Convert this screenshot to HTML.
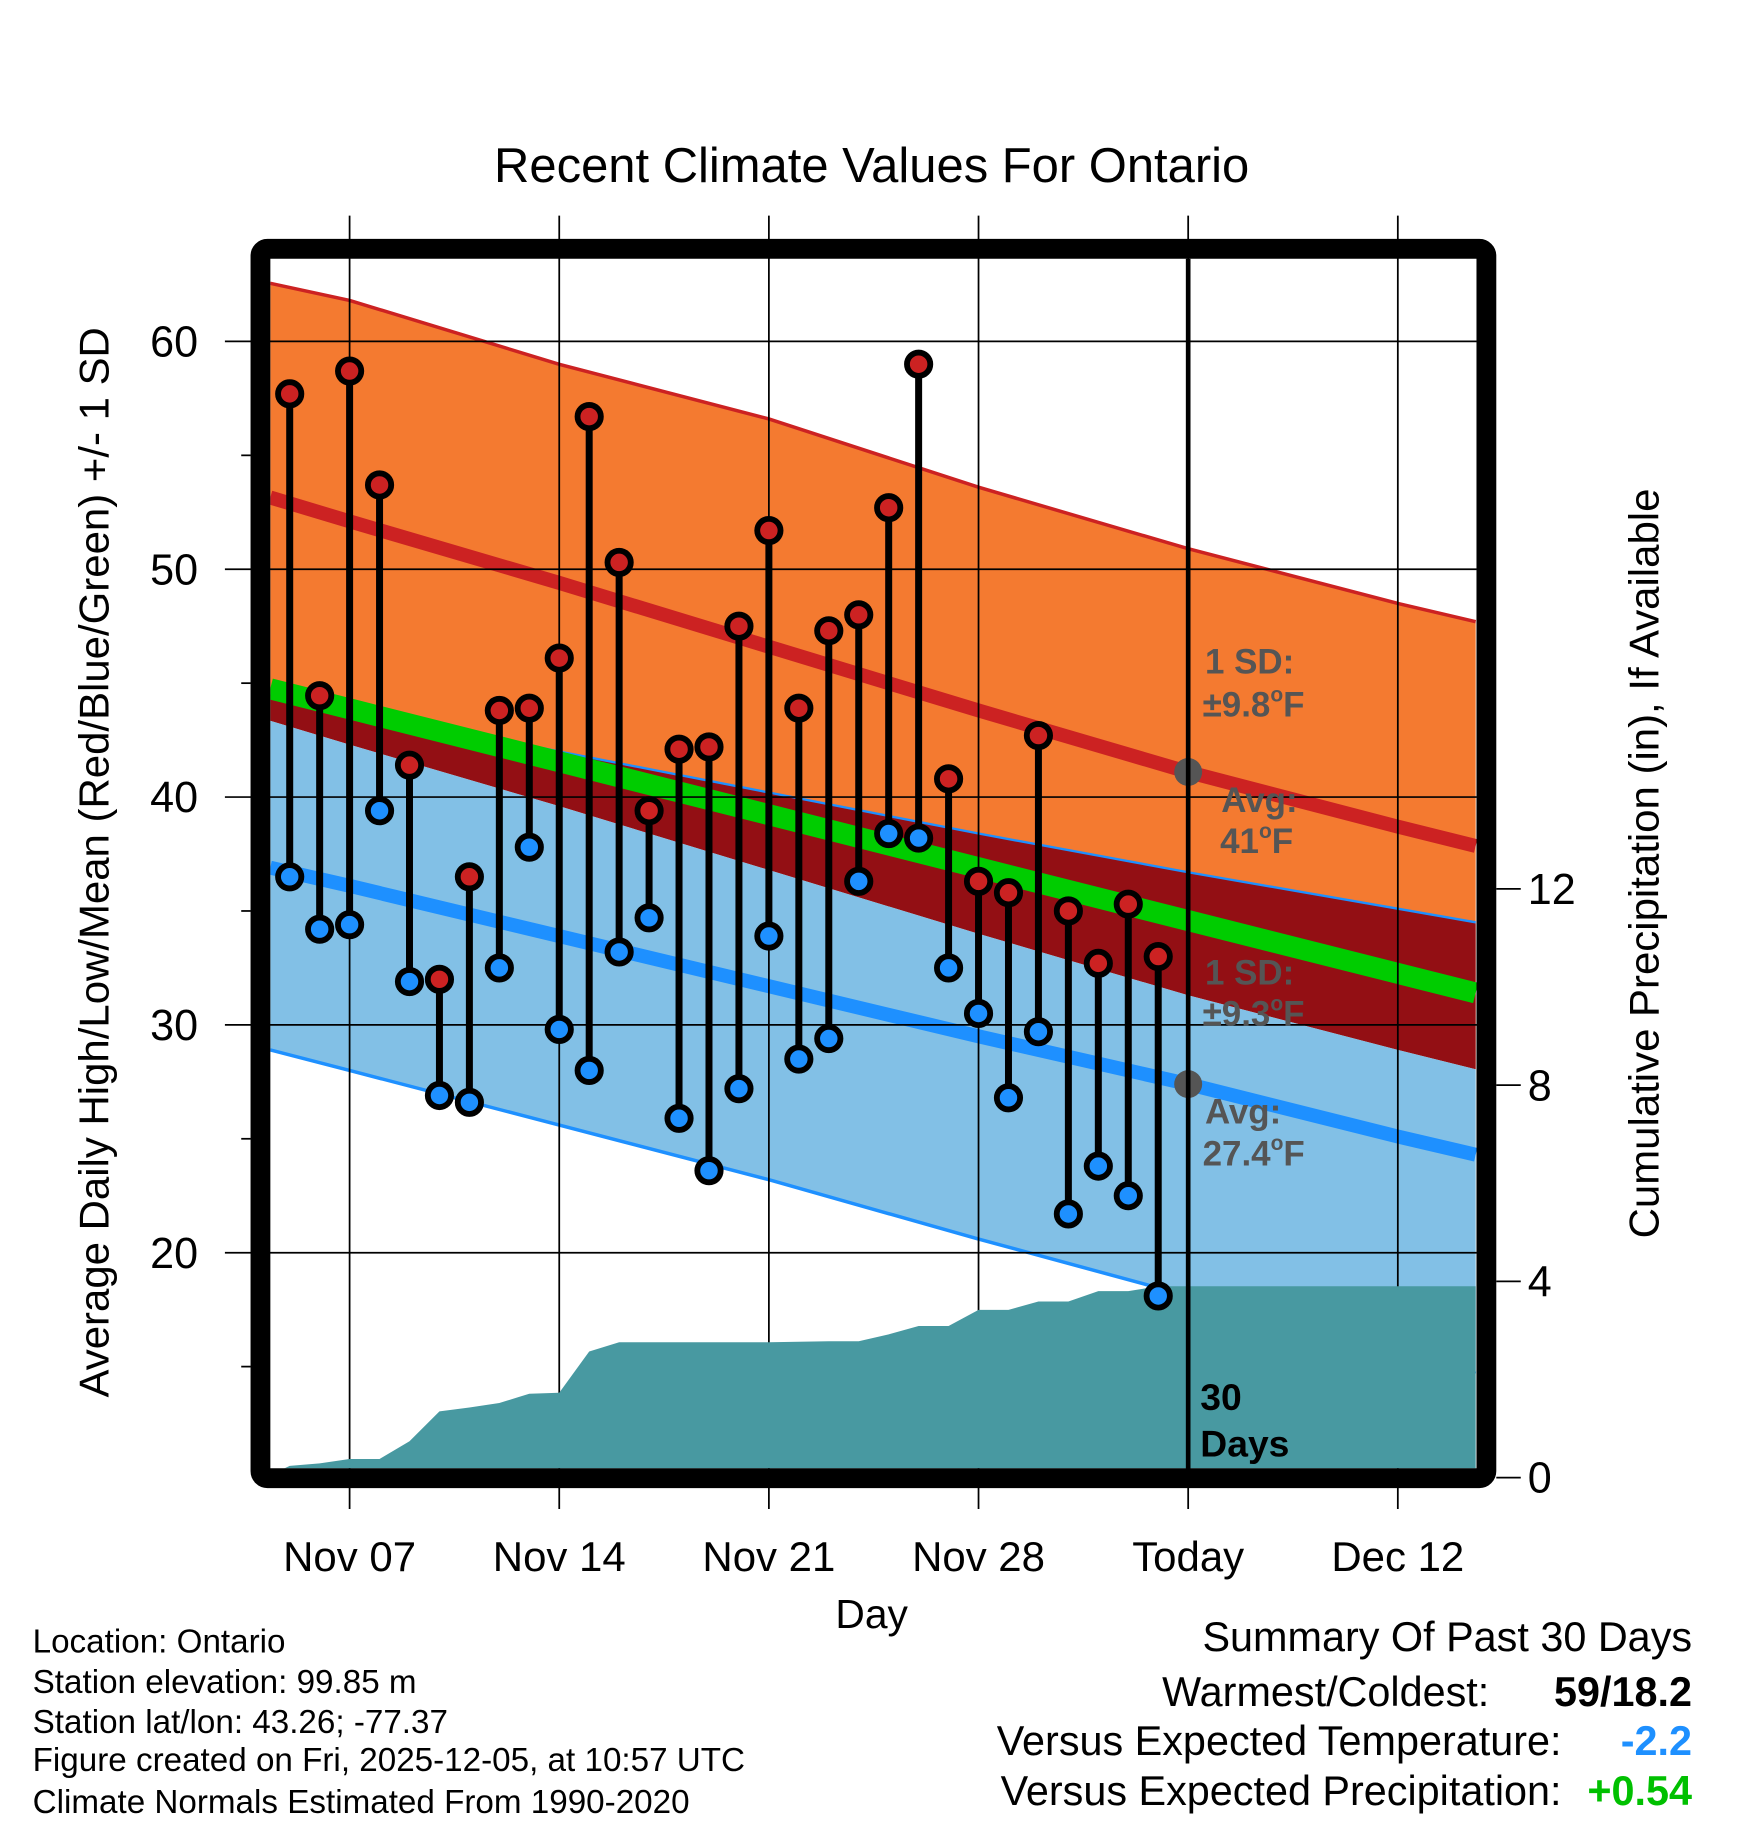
<!DOCTYPE html>
<html><head><meta charset="utf-8"><style>
html,body{margin:0;padding:0;background:#fff;}
svg{display:block;font-family:"Liberation Sans",sans-serif;}
</style></head><body>
<svg id="chart" width="1748" height="1828" viewBox="0 0 1500 1568.7" preserveAspectRatio="none" xmlns="http://www.w3.org/2000/svg">
<defs><clipPath id="plotclip"><rect x="232" y="222" width="1035" height="1038"/></clipPath></defs>
<text x="748" y="156" font-size="42" text-anchor="middle">Recent Climate Values For Ontario</text>
<g id="fills" clip-path="url(#plotclip)"></g>
<g id="grid"></g>
<g id="precip" clip-path="url(#plotclip)"></g>
<g id="annot"></g>
<g id="marks"></g>
<rect x="223.5" y="213.5" width="1052" height="1055" fill="none" stroke="#000" stroke-width="17" rx="6"/>
<g id="axes"></g>
<text x="748" y="1397" font-size="35" text-anchor="middle">Day</text>
<text transform="translate(93,740) rotate(-90)" font-size="36" text-anchor="middle">Average Daily High/Low/Mean (Red/Blue/Green) +/- 1 SD</text>
<text transform="translate(1423,741) rotate(-90)" font-size="36" text-anchor="middle">Cumulative Precipitation (in), If Available</text>
<g font-size="28.5">
<text x="28" y="1418">Location: Ontario</text>
<text x="28" y="1453">Station elevation: 99.85 m</text>
<text x="28" y="1487">Station lat/lon: 43.26; -77.37</text>
<text x="28" y="1520">Figure created on Fri, 2025-12-05, at 10:57 UTC</text>
<text x="28" y="1556">Climate Normals Estimated From 1990-2020</text>
</g>
<g font-size="35.5">
<text x="1452" y="1417" text-anchor="end">Summary Of Past 30 Days</text>
<text x="1278" y="1464" text-anchor="end">Warmest/Coldest:</text>
<text x="1452" y="1464" text-anchor="end" font-weight="bold">59/18.2</text>
<text x="1340" y="1506" text-anchor="end">Versus Expected Temperature:</text>
<text x="1452" y="1506" text-anchor="end" font-weight="bold" fill="#1e90ff">-2.2</text>
<text x="1340" y="1549" text-anchor="end">Versus Expected Precipitation:</text>
<text x="1452" y="1549" text-anchor="end" font-weight="bold" fill="#00c000">+0.54</text>
</g>
</svg>
<script>
// ---- data ----
const dayIdx = [-2,-1,0,1,2,3,4,5,6,7,8,9,10,11,12,13,14,15,16,17,18,19,20,21,22,23,24,25,26,27];
const highs = [57.7,44.45,58.7,53.7,41.4,32.0,36.5,43.8,43.9,46.1,56.7,50.3,39.4,42.1,42.2,47.5,51.7,43.9,47.3,48.0,52.7,59.0,40.8,36.3,35.8,42.7,35.0,32.7,35.3,33.0];
const lows = [36.5,34.2,34.4,39.4,31.9,26.9,26.6,32.5,37.8,29.8,28.0,33.2,34.7,25.9,23.6,27.2,33.9,28.5,29.4,36.3,38.4,38.2,32.5,30.5,26.8,29.7,21.7,23.8,22.5,18.1];
const precipCum = [0.24,0.29,0.38,0.38,0.74,1.35,1.43,1.52,1.71,1.73,2.57,2.76,2.76,2.76,2.76,2.76,2.76,2.77,2.78,2.78,2.92,3.09,3.09,3.42,3.42,3.59,3.59,3.80,3.80,3.90];
const normDays = [-2.65,0,7,14,21,28,35,37.6];
const hiAvg = [53.15,52.1,49.4,46.6,43.8,41.1,38.7,37.85];
const hiPlus = [62.55,61.8,59.0,56.6,53.6,50.9,48.5,47.7];
const hiMinus = [43.35,42.3,39.6,36.8,34.0,31.3,28.9,28.05];
const loAvg = [36.9,36.1,33.9,31.7,29.5,27.4,25.1,24.3];
const loUpper = [44.5,43.9,42.0,40.2,38.4,36.7,35.1,34.5];
const loLower = [28.9,28.0,25.6,23.2,20.6,18.1,15.6,14.7];
const meanAvg = [44.75,43.87,41.55,39.23,36.9,34.58,32.26,31.4];
const yTicks = [20,30,40,50,60];
const yMinor = [15,25,35,45,55];
const pTicks = [0,4,8,12];
const xTickDays = [0,7,14,21,28,35];
const xTickLabels = ["Nov 07","Nov 14","Nov 21","Nov 28","Today","Dec 12"];
const todayDay = 28;

// ---- scales ----
const X = d => 300 + d*25.7;
const Y = v => 293 + (60-v)*19.55;
const P = p => 1268 - p*42.1;
const NS = "http://www.w3.org/2000/svg";
function mk(tag, attrs, parent){const e=document.createElementNS(NS,tag);for(const k in attrs)e.setAttribute(k,attrs[k]);parent.appendChild(e);return e;}
const fills=document.getElementById('fills'), grid=document.getElementById('grid'), precip=document.getElementById('precip'), marks=document.getElementById('marks'), axes=document.getElementById('axes'), annot=document.getElementById('annot');
const line = arr => arr.map((v,i)=>X(normDays[i]).toFixed(1)+','+Y(v).toFixed(1)).join(' ');
const band = (a,b) => line(a)+' '+b.map((v,i)=>X(normDays[i]).toFixed(1)+','+Y(v).toFixed(1)).reverse().join(' ');

let e;
e=mk('polygon',{points:band(hiPlus,hiMinus),fill:'#f47a30'},fills);


e=mk('polygon',{points:band(loUpper,hiMinus),fill:'#930f14'},fills);


e=mk('polygon',{points:band(hiMinus,loLower),fill:'#82c0e6'},fills);


e=mk('polyline',{points:line(hiPlus),fill:'none',stroke:'#cc2222','stroke-width':3},fills);


e=mk('polyline',{points:line(loUpper),fill:'none',stroke:'#1e90ff','stroke-width':2},fills);


e=mk('polyline',{points:line(loLower),fill:'none',stroke:'#1e90ff','stroke-width':3},fills);


e=mk('polyline',{points:line(meanAvg),fill:'none',stroke:'#00cc00','stroke-width':18},fills);


e=mk('polyline',{points:line(hiAvg),fill:'none',stroke:'#cc2222','stroke-width':12},fills);


e=mk('polyline',{points:line(loAvg),fill:'none',stroke:'#1e90ff','stroke-width':12},fills);



// grid
yTicks.forEach(v=>{
  e=mk('line',{x1:193,x2:1267,y1:Y(v),y2:Y(v),stroke:'#000','stroke-width':1.5},grid);
  
  
  e=mk('text',{x:170,y:Y(v)+13,'font-size':37,'text-anchor':'end'},axes);
  e.textContent=v;
  
  
});
yMinor.forEach(v=>{
  e=mk('line',{x1:207,x2:215,y1:Y(v),y2:Y(v),stroke:'#000','stroke-width':1.5},grid);
  
  
});
xTickDays.forEach((d,i)=>{
  e=mk('line',{x1:X(d),x2:X(d),y1:185,y2:1295,stroke:'#000','stroke-width':1.5},grid);
  
  
  e=mk('text',{x:X(d),y:1348,'font-size':36,'text-anchor':'middle'},axes);
  e.textContent=xTickLabels[i];
  
  
});
pTicks.forEach(p=>{
  e=mk('line',{x1:1284,x2:1305,y1:P(p),y2:P(p),stroke:'#000','stroke-width':1.5},axes);
  
  
  e=mk('text',{x:1311,y:P(p)+13,'font-size':37},axes);
  e.textContent=p;
  
  
});

// precip area
let pts = X(-2.65)+','+P(0)+' '+X(-2.65)+','+P(0.05)+' ';
pts += dayIdx.map((d,i)=>X(d)+','+P(precipCum[i])).join(' ');
pts += ' '+X(37.6)+','+P(precipCum[precipCum.length-1])+' '+X(37.6)+','+P(0);
e=mk('polygon',{points:pts,fill:'#4899a1'},precip);


e=mk('rect',{x:232,y:1260,width:1035,height:10,fill:'#4899a1'},precip);



// annotations
const ann=[["1 SD:",1034,578,""],["±9.8",1032,615,"F"],["Avg:",1048,697,""],["41",1047,732,"F"],["1 SD:",1034,845,""],["±9.3",1032,880,"F"],["Avg:",1034,964,""],["27.4",1032,1000,"F"]];
ann.forEach(a=>{
  e=mk('text',{x:a[1],y:a[2],'font-size':30,'font-weight':'bold',fill:'#555'},annot);
  
  
  e.appendChild(document.createTextNode(a[0]));
  if(a[3]){
    const s=mk('tspan',{'font-size':18,dy:-13},e); s.textContent='o';
    const f=mk('tspan',{'font-size':30,dy:13},e); f.textContent=a[3];
  }
});
e=mk('circle',{cx:X(todayDay),cy:Y(hiAvg[5]),r:12,fill:'#555'},annot);


e=mk('circle',{cx:X(todayDay),cy:Y(loAvg[5]),r:12,fill:'#555'},annot);



// stems and markers
dayIdx.forEach((d,i)=>{
  e=mk('line',{x1:X(d),x2:X(d),y1:Y(highs[i]),y2:Y(lows[i]),stroke:'#000','stroke-width':6},marks);
  
  
});
dayIdx.forEach((d,i)=>{
  e=mk('circle',{cx:X(d),cy:Y(highs[i]),r:10,fill:'#cc2222',stroke:'#000','stroke-width':5},marks);
  
  
  e=mk('circle',{cx:X(d),cy:Y(lows[i]),r:10,fill:'#1e90ff',stroke:'#000','stroke-width':5},marks);
  
  
});
e=mk('line',{x1:X(todayDay),x2:X(todayDay),y1:222,y2:1262,stroke:'#000','stroke-width':4},marks);


e=mk('text',{x:1030,y:1210,'font-size':32,'font-weight':'bold'},marks);
e.textContent='30';


e=mk('text',{x:1030,y:1250,'font-size':32,'font-weight':'bold'},marks);
e.textContent='Days';


</script>
</body></html>
